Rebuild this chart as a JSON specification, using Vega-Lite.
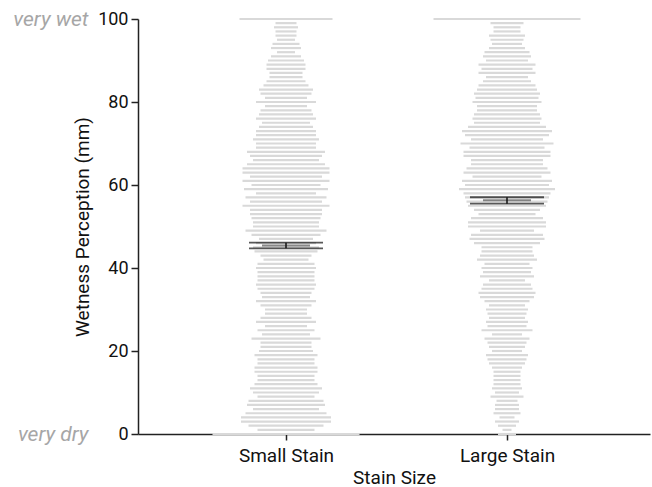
{
  "$schema": "https://vega.github.io/schema/vega-lite/v6.json",
  "autosize": {"type": "none"},
  "padding": {"left": 138, "top": 19, "right": 2, "bottom": 53},
  "width": 512,
  "height": 415,
  "config": {
    "view": {"stroke": null},
    "font": "Roboto",
    "axis": {"labelFont": "Roboto", "titleFont": "Roboto", "labelColor": "#111", "titleColor": "#111", "titleFontWeight": "normal", "domainColor": "#222", "tickColor": "#222", "domainWidth": 1.5, "tickWidth": 1.5, "grid": false}
  },
  "resolve": {"scale": {"y": "independent"}},
  "layer": [
    {
      "layer": [
        {
          "data": {"values": [
            {"group":"Small Stain","value":100,"n":31},{"group":"Small Stain","value":99,"n":7},{"group":"Small Stain","value":98,"n":8},{"group":"Small Stain","value":97,"n":7},{"group":"Small Stain","value":96,"n":7},{"group":"Small Stain","value":95,"n":6},{"group":"Small Stain","value":94,"n":9},{"group":"Small Stain","value":93,"n":10},{"group":"Small Stain","value":92,"n":6},{"group":"Small Stain","value":91,"n":10},
            {"group":"Small Stain","value":90,"n":12},{"group":"Small Stain","value":89,"n":13},{"group":"Small Stain","value":88,"n":13},{"group":"Small Stain","value":87,"n":11},{"group":"Small Stain","value":86,"n":11},{"group":"Small Stain","value":85,"n":13},{"group":"Small Stain","value":84,"n":15},{"group":"Small Stain","value":83,"n":18},{"group":"Small Stain","value":82,"n":17},{"group":"Small Stain","value":81,"n":14},
            {"group":"Small Stain","value":80,"n":20},{"group":"Small Stain","value":79,"n":14},{"group":"Small Stain","value":78,"n":17},{"group":"Small Stain","value":77,"n":18},{"group":"Small Stain","value":76,"n":20},{"group":"Small Stain","value":75,"n":16},{"group":"Small Stain","value":74,"n":18},{"group":"Small Stain","value":73,"n":20},{"group":"Small Stain","value":72,"n":20},{"group":"Small Stain","value":71,"n":22},
            {"group":"Small Stain","value":70,"n":20},{"group":"Small Stain","value":69,"n":20},{"group":"Small Stain","value":68,"n":26},{"group":"Small Stain","value":67,"n":24},{"group":"Small Stain","value":66,"n":22},{"group":"Small Stain","value":65,"n":26},{"group":"Small Stain","value":64,"n":29},{"group":"Small Stain","value":63,"n":29},{"group":"Small Stain","value":62,"n":24},{"group":"Small Stain","value":61,"n":29},
            {"group":"Small Stain","value":60,"n":23},{"group":"Small Stain","value":59,"n":28},{"group":"Small Stain","value":58,"n":20},{"group":"Small Stain","value":57,"n":27},{"group":"Small Stain","value":56,"n":24},{"group":"Small Stain","value":55,"n":29},{"group":"Small Stain","value":54,"n":24},{"group":"Small Stain","value":53,"n":24},{"group":"Small Stain","value":52,"n":23},{"group":"Small Stain","value":51,"n":22},
            {"group":"Small Stain","value":50,"n":22},{"group":"Small Stain","value":49,"n":27},{"group":"Small Stain","value":48,"n":23},{"group":"Small Stain","value":47,"n":18},{"group":"Small Stain","value":46,"n":20},{"group":"Small Stain","value":45,"n":22},{"group":"Small Stain","value":44,"n":21},{"group":"Small Stain","value":43,"n":17},{"group":"Small Stain","value":42,"n":15},{"group":"Small Stain","value":41,"n":19},
            {"group":"Small Stain","value":40,"n":20},{"group":"Small Stain","value":39,"n":19},{"group":"Small Stain","value":38,"n":19},{"group":"Small Stain","value":37,"n":19},{"group":"Small Stain","value":36,"n":20},{"group":"Small Stain","value":35,"n":19},{"group":"Small Stain","value":34,"n":17},{"group":"Small Stain","value":33,"n":16},{"group":"Small Stain","value":32,"n":20},{"group":"Small Stain","value":31,"n":17},
            {"group":"Small Stain","value":30,"n":14},{"group":"Small Stain","value":29,"n":14},{"group":"Small Stain","value":28,"n":17},{"group":"Small Stain","value":27,"n":20},{"group":"Small Stain","value":26,"n":14},{"group":"Small Stain","value":25,"n":19},{"group":"Small Stain","value":24,"n":16},{"group":"Small Stain","value":23,"n":23},{"group":"Small Stain","value":22,"n":17},{"group":"Small Stain","value":21,"n":17},
            {"group":"Small Stain","value":20,"n":18},{"group":"Small Stain","value":19,"n":21},{"group":"Small Stain","value":18,"n":19},{"group":"Small Stain","value":17,"n":19},{"group":"Small Stain","value":16,"n":21},{"group":"Small Stain","value":15,"n":21},{"group":"Small Stain","value":14,"n":19},{"group":"Small Stain","value":13,"n":19},{"group":"Small Stain","value":12,"n":21},{"group":"Small Stain","value":11,"n":24},
            {"group":"Small Stain","value":10,"n":22},{"group":"Small Stain","value":9,"n":19},{"group":"Small Stain","value":8,"n":25},{"group":"Small Stain","value":7,"n":26},{"group":"Small Stain","value":6,"n":22},{"group":"Small Stain","value":5,"n":27},{"group":"Small Stain","value":4,"n":30},{"group":"Small Stain","value":3,"n":30},{"group":"Small Stain","value":2,"n":25},{"group":"Small Stain","value":1,"n":19},
            {"group":"Small Stain","value":0,"n":49},
            {"group":"Large Stain","value":100,"n":49},{"group":"Large Stain","value":99,"n":11},{"group":"Large Stain","value":98,"n":9},{"group":"Large Stain","value":97,"n":9},{"group":"Large Stain","value":96,"n":12},{"group":"Large Stain","value":95,"n":11},{"group":"Large Stain","value":94,"n":10},{"group":"Large Stain","value":93,"n":12},{"group":"Large Stain","value":92,"n":15},{"group":"Large Stain","value":91,"n":16},
            {"group":"Large Stain","value":90,"n":14},{"group":"Large Stain","value":89,"n":19},{"group":"Large Stain","value":88,"n":17},{"group":"Large Stain","value":87,"n":19},{"group":"Large Stain","value":86,"n":14},{"group":"Large Stain","value":85,"n":16},{"group":"Large Stain","value":84,"n":19},{"group":"Large Stain","value":83,"n":20},{"group":"Large Stain","value":82,"n":22},{"group":"Large Stain","value":81,"n":21},
            {"group":"Large Stain","value":80,"n":23},{"group":"Large Stain","value":79,"n":20},{"group":"Large Stain","value":78,"n":20},{"group":"Large Stain","value":77,"n":22},{"group":"Large Stain","value":76,"n":23},{"group":"Large Stain","value":75,"n":22},{"group":"Large Stain","value":74,"n":26},{"group":"Large Stain","value":73,"n":30},{"group":"Large Stain","value":72,"n":28},{"group":"Large Stain","value":71,"n":24},
            {"group":"Large Stain","value":70,"n":31},{"group":"Large Stain","value":69,"n":25},{"group":"Large Stain","value":68,"n":29},{"group":"Large Stain","value":67,"n":29},{"group":"Large Stain","value":66,"n":24},{"group":"Large Stain","value":65,"n":24},{"group":"Large Stain","value":64,"n":27},{"group":"Large Stain","value":63,"n":29},{"group":"Large Stain","value":62,"n":23},{"group":"Large Stain","value":61,"n":30},
            {"group":"Large Stain","value":60,"n":28},{"group":"Large Stain","value":59,"n":32},{"group":"Large Stain","value":58,"n":29},{"group":"Large Stain","value":57,"n":28},{"group":"Large Stain","value":56,"n":27},{"group":"Large Stain","value":55,"n":26},{"group":"Large Stain","value":54,"n":22},{"group":"Large Stain","value":53,"n":19},{"group":"Large Stain","value":52,"n":24},{"group":"Large Stain","value":51,"n":26},
            {"group":"Large Stain","value":50,"n":26},{"group":"Large Stain","value":49,"n":18},{"group":"Large Stain","value":48,"n":24},{"group":"Large Stain","value":47,"n":25},{"group":"Large Stain","value":46,"n":22},{"group":"Large Stain","value":45,"n":17},{"group":"Large Stain","value":44,"n":17},{"group":"Large Stain","value":43,"n":18},{"group":"Large Stain","value":42,"n":20},{"group":"Large Stain","value":41,"n":15},
            {"group":"Large Stain","value":40,"n":17},{"group":"Large Stain","value":39,"n":16},{"group":"Large Stain","value":38,"n":18},{"group":"Large Stain","value":37,"n":12},{"group":"Large Stain","value":36,"n":16},{"group":"Large Stain","value":35,"n":17},{"group":"Large Stain","value":34,"n":19},{"group":"Large Stain","value":33,"n":18},{"group":"Large Stain","value":32,"n":15},{"group":"Large Stain","value":31,"n":12},
            {"group":"Large Stain","value":30,"n":14},{"group":"Large Stain","value":29,"n":13},{"group":"Large Stain","value":28,"n":12},{"group":"Large Stain","value":27,"n":14},{"group":"Large Stain","value":26,"n":13},{"group":"Large Stain","value":25,"n":17},{"group":"Large Stain","value":24,"n":10},{"group":"Large Stain","value":23,"n":15},{"group":"Large Stain","value":22,"n":13},{"group":"Large Stain","value":21,"n":12},
            {"group":"Large Stain","value":20,"n":10},{"group":"Large Stain","value":19,"n":14},{"group":"Large Stain","value":18,"n":13},{"group":"Large Stain","value":17,"n":12},{"group":"Large Stain","value":16,"n":10},{"group":"Large Stain","value":15,"n":9},{"group":"Large Stain","value":14,"n":9},{"group":"Large Stain","value":13,"n":9},{"group":"Large Stain","value":12,"n":9},{"group":"Large Stain","value":11,"n":10},
            {"group":"Large Stain","value":10,"n":8},{"group":"Large Stain","value":9,"n":11},{"group":"Large Stain","value":8,"n":7},{"group":"Large Stain","value":7,"n":8},{"group":"Large Stain","value":6,"n":8},{"group":"Large Stain","value":5,"n":9},{"group":"Large Stain","value":4,"n":5},{"group":"Large Stain","value":3,"n":8},{"group":"Large Stain","value":2,"n":6},{"group":"Large Stain","value":1,"n":3},
            {"group":"Large Stain","value":0,"n":6}
          ]},
          "mark": {"type": "tick", "color": "#d9d9d9", "thickness": 2.2, "opacity": 1},
          "encoding": {
            "x": {"field": "group", "type": "nominal", "scale": {"type": "point", "domain": ["Small Stain", "Large Stain"], "padding": 0.6584, "align": 0.5086},
                  "axis": {"title": "Stain Size", "labelAngle": 0, "labelFontSize": 19, "titleFontSize": 19, "tickSize": 6, "labelPadding": 6, "titlePadding": 3}},
            "y": {"field": "value", "type": "quantitative", "scale": {"domain": [0, 100], "nice": false},
                  "axis": {"title": "Wetness Perception (mm)", "values": [0, 20, 40, 60, 80, 100], "labelFontSize": 18, "titleFontSize": 19, "tickSize": 7, "labelPadding": 3, "titlePadding": 5}},
            "size": {"field": "n", "type": "quantitative", "scale": {"type": "linear", "domain": [0, 50], "range": [0, 150]}, "legend": null}
          }
        },
        {
          "data": {"name": "stats", "values": [
            {"group": "Small Stain", "mean": 45.4, "lo": 44.75, "hi": 46.1},
            {"group": "Large Stain", "mean": 56.3, "lo": 55.5, "hi": 57.05}
          ]},
          "layer": [
            {"mark": {"type": "tick", "color": "#111", "thickness": 1.8},
             "encoding": {"x": {"field": "group", "type": "nominal"}, "y": {"field": "hi", "type": "quantitative"}, "size": {"value": 74}}},
            {"mark": {"type": "tick", "color": "#111", "thickness": 1.8},
             "encoding": {"x": {"field": "group", "type": "nominal"}, "y": {"field": "lo", "type": "quantitative"}, "size": {"value": 74}}},
            {"mark": {"type": "tick", "color": "#555", "thickness": 2},
             "encoding": {"x": {"field": "group", "type": "nominal"}, "y": {"field": "mean", "type": "quantitative"}, "size": {"value": 48}}},
            {"mark": {"type": "rule", "color": "#111", "strokeWidth": 1.5},
             "encoding": {"x": {"field": "group", "type": "nominal"}, "y": {"field": "lo", "type": "quantitative"}, "y2": {"field": "hi"}}}
          ]
        }
      ]
    },
    {
      "data": {"values": [{"v": 0, "label": "very dry"}, {"v": 100, "label": "very wet"}]},
      "mark": {"type": "point", "opacity": 0},
      "encoding": {
        "y": {"field": "v", "type": "quantitative", "scale": {"domain": [0, 100], "nice": false},
              "axis": {"orient": "left", "offset": 50, "values": [0, 100], "labelExpr": "datum.value == 100 ? 'very wet' : 'very dry'", "labelColor": "#a6a6a6", "labelFontStyle": "italic", "labelFontSize": 21, "ticks": false, "domain": false, "labelPadding": 0, "title": null}}
      }
    }
  ]
}
